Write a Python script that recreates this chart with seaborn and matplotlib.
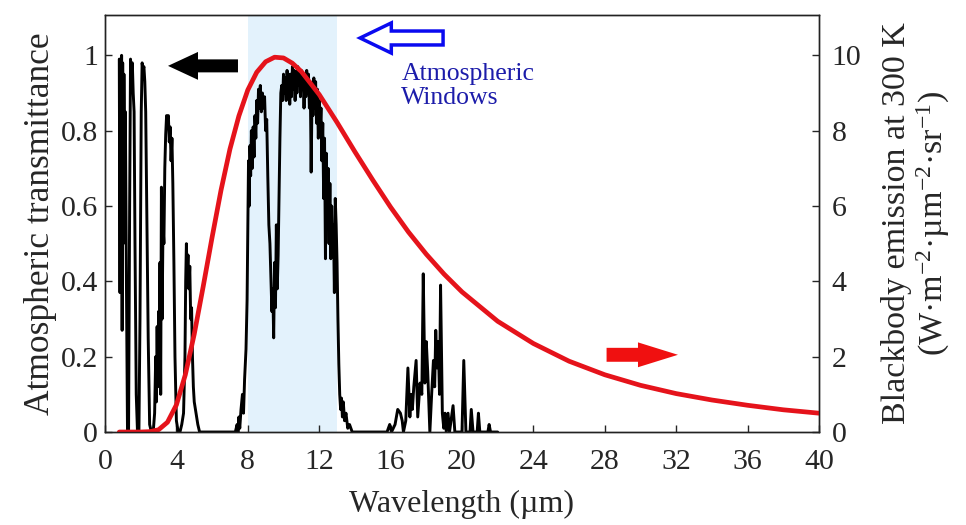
import matplotlib
matplotlib.use("Agg")
import matplotlib.pyplot as plt
import seaborn as sns
from matplotlib.patches import FancyArrow

# ================== data ==================
# atmospheric transmittance vs wavelength (um)
trans_um = [
    0.80, 0.84, 0.87, 0.90, 0.93, 0.96, 0.99, 1.02, 1.06, 1.10, 1.14, 1.20, 1.26, 1.32, 1.38,
    1.43, 1.48, 1.53, 1.58, 1.63, 1.68, 1.75, 1.82, 1.90, 1.96, 2.03, 2.08, 2.13, 2.18, 2.23,
    2.28, 2.35, 2.42, 2.50, 2.60, 2.70, 2.78, 2.84, 2.88, 2.92, 2.96, 3.00, 3.04, 3.08, 3.12,
    3.16, 3.20, 3.25, 3.30, 3.35, 3.40, 3.45, 3.50, 3.55, 3.60, 3.65, 3.70, 3.75, 3.80, 3.86,
    3.92, 4.00, 4.10, 4.20, 4.30, 4.40, 4.48, 4.52, 4.56, 4.60, 4.65, 4.70, 4.75, 4.80, 4.85,
    4.90, 4.95, 5.00, 5.10, 5.20, 5.30, 7.30,
    7.40, 7.45, 7.50, 7.55, 7.62, 7.70, 7.76, 7.82, 7.90, 7.96, 8.00, 8.04, 8.08, 8.12, 8.16,
    8.20, 8.25, 8.30, 8.35, 8.40, 8.45, 8.50, 8.55, 8.60, 8.65, 8.70, 8.76, 8.82, 8.88, 8.94,
    9.00, 9.06, 9.12, 9.18, 9.24, 9.30, 9.35, 9.40, 9.45, 9.50, 9.55, 9.60, 9.65, 9.70, 9.75,
    9.80, 9.85, 9.90, 9.95, 10.00, 10.05, 10.10, 10.15, 10.20, 10.25, 10.30, 10.35, 10.40,
    10.45, 10.50, 10.55, 10.60, 10.65, 10.70, 10.75, 10.80, 10.85, 10.90, 10.95, 11.00, 11.05,
    11.10, 11.15, 11.20, 11.25, 11.30, 11.35, 11.40, 11.45, 11.50, 11.55, 11.60, 11.65, 11.70,
    11.75, 11.80, 11.85, 11.90, 11.95, 12.00, 12.05, 12.10, 12.15, 12.20, 12.25, 12.30, 12.35,
    12.40, 12.45, 12.50, 12.55, 12.60, 12.65, 12.70, 12.75, 12.80, 12.85, 12.90, 12.95, 13.00,
    13.05, 13.10, 13.15, 13.20, 13.25, 13.30, 13.35, 13.42, 13.50, 13.60, 13.70, 13.85, 13.95,
    15.80, 15.95, 16.05, 16.25, 16.40, 16.55, 16.65, 16.72, 16.85, 16.97, 17.08, 17.15, 17.22,
    17.30, 17.43, 17.52, 17.65, 17.75, 17.83, 17.92, 18.00, 18.08, 18.20, 18.30, 18.40, 18.47,
    18.53, 18.60, 18.67, 18.74, 18.80, 18.90, 18.98, 19.05, 19.12, 19.22, 19.30, 19.50, 19.60,
    20.00, 20.10, 20.22, 20.45, 20.52, 20.62, 20.85, 20.92, 21.00, 21.45, 21.52, 21.60, 22.00,
]
trans_val = [
    0.99, 0.37, 0.99, 0.60, 1.00, 0.27, 0.98, 0.50, 0.95, 0.70, 0.85, 0.40, 0.00, 0.00, 0.60,
    0.99, 0.95, 0.98, 0.90, 0.85, 0.50, 0.10, 0.00, 0.00, 0.30, 0.85, 0.98, 0.96, 0.97, 0.93,
    0.85, 0.55, 0.25, 0.02, 0.00, 0.00, 0.05, 0.20, 0.08, 0.28, 0.12, 0.32, 0.18, 0.45, 0.10,
    0.65, 0.30, 0.55, 0.50, 0.70, 0.79, 0.84, 0.83, 0.84, 0.77, 0.81, 0.72, 0.78, 0.66, 0.45,
    0.20, 0.03, 0.00, 0.00, 0.02, 0.05, 0.20, 0.40, 0.50, 0.42, 0.47, 0.38, 0.44, 0.30, 0.33,
    0.20, 0.12, 0.08, 0.05, 0.02, 0.00, 0.00,
    0.02, 0.00, 0.04, 0.01, 0.06, 0.10, 0.05, 0.14, 0.22, 0.35, 0.55, 0.72, 0.60, 0.76, 0.68,
    0.80, 0.70, 0.81, 0.73, 0.84, 0.78, 0.88, 0.82, 0.91, 0.86, 0.92, 0.85, 0.90, 0.86, 0.89,
    0.80, 0.83, 0.68, 0.55, 0.50, 0.40, 0.32, 0.38, 0.25, 0.45, 0.33, 0.55, 0.38, 0.47, 0.62,
    0.78, 0.90, 0.92, 0.88, 0.95, 0.90, 0.94, 0.88, 0.96, 0.90, 0.95, 0.87, 0.95,
    0.89, 0.97, 0.91, 0.96, 0.88, 0.95, 0.90, 0.97, 0.92, 0.96, 0.89, 0.96, 0.91,
    0.95, 0.86, 0.94, 0.89, 0.96, 0.90, 0.95, 0.86, 0.93, 0.69, 0.90, 0.84, 0.94,
    0.86, 0.93, 0.82, 0.91, 0.78, 0.88, 0.80, 0.86, 0.72, 0.82, 0.62, 0.78, 0.46,
    0.74, 0.58, 0.70, 0.50, 0.66, 0.46, 0.60, 0.48, 0.55, 0.37, 0.62, 0.55, 0.45,
    0.30, 0.18, 0.10, 0.06, 0.09, 0.04, 0.08, 0.03, 0.05, 0.01, 0.02, 0.00, 0.00,
    0.00, 0.02, 0.00, 0.02, 0.06, 0.05, 0.03, 0.00, 0.03, 0.17, 0.04, 0.10, 0.06,
    0.12, 0.19, 0.04, 0.13, 0.10, 0.42, 0.13, 0.24, 0.16, 0.00, 0.10, 0.19, 0.12,
    0.27, 0.17, 0.24, 0.10, 0.39, 0.05, 0.01, 0.05, 0.00, 0.05, 0.00, 0.07, 0.00,
    0.00, 0.19, 0.00, 0.00, 0.06, 0.00, 0.00, 0.05, 0.00, 0.00, 0.02, 0.00, 0.00,
]

# blackbody spectral radiance at 300 K (W m-2 um-1 sr-1)
bb_um = [0.8, 1.5, 2.0, 2.5, 3.0, 3.5, 4.0, 4.5, 5.0, 5.5, 6.0, 6.5, 7.0, 7.5, 8.0, 8.5,
         9.0, 9.5, 10.0, 10.5, 11.0, 12.0, 13.0, 14.0, 15.0, 16.0, 17.0, 18.0, 19.0, 20.0,
         22.0, 24.0, 26.0, 28.0, 30.0, 32.0, 34.0, 36.0, 38.0, 40.0]
bb_val = [0.0, 0.0, 0.0, 0.01, 0.06, 0.26, 0.72, 1.52, 2.60, 3.86, 5.17, 6.42, 7.51, 8.39,
          9.08, 9.55, 9.83, 9.95, 9.93, 9.79, 9.57, 8.96, 8.22, 7.44, 6.69, 5.97, 5.31, 4.72,
          4.19, 3.72, 2.94, 2.35, 1.88, 1.52, 1.24, 1.02, 0.85, 0.71, 0.59, 0.50]

x_ticks = [0, 4, 8, 12, 16, 20, 24, 28, 32, 36, 40]
left_ticks = [0, 0.2, 0.4, 0.6, 0.8, 1.0]
left_labels = ["0", "0.2", "0.4", "0.6", "0.8", "1"]
right_ticks = [0, 2, 4, 6, 8, 10]
window_band = (8, 13)
# ====================================================================

sns.set_style("ticks")
plt.rcParams["font.family"] = ["Liberation Serif", "DejaVu Serif"]
plt.rcParams["mathtext.fontset"] = "custom"
plt.rcParams["mathtext.rm"] = "Liberation Serif"
plt.rcParams["mathtext.it"] = "Liberation Serif:italic"

fig = plt.figure(figsize=(9.66, 5.25), dpi=100)
ax = fig.add_axes([0.1087, 0.1771, 0.7391, 0.7943])
ax2 = ax.twinx()

# atmospheric window shading
ax.axvspan(*window_band, color="#e3f2fc", lw=0, zorder=0)

sns.lineplot(x=trans_um, y=trans_val, color="black", linewidth=2.1,
             estimator=None, sort=False, ax=ax)
sns.lineplot(x=bb_um, y=bb_val, color="#e5131b", linewidth=3.4,
             estimator=None, sort=False, ax=ax2)

ax.set_xlim(0, 40)
ax.set_ylim(0, 1.107)
ax2.set_ylim(0, 11.07)
ax.set_xticks(x_ticks)
ax.set_yticks(left_ticks)
ax.set_yticklabels(left_labels)
ax2.set_yticks(right_ticks)

for a in (ax, ax2):
    for sp in a.spines.values():
        sp.set_linewidth(1.0)
        sp.set_color("#222222")
ax.tick_params(axis="both", direction="in", length=5, width=1, labelsize=21.5, top=False, right=False)
ax.tick_params(axis="x", pad=12)
ax.tick_params(axis="y", pad=5)
ax2.tick_params(axis="y", direction="in", length=5, width=1, labelsize=21.5, pad=9)

ax.set_xlabel("Wavelength (µm)", fontsize=23, labelpad=11)
ax.set_ylabel("Atmospheric transmittance", fontsize=25.5, labelpad=3)
ax2.set_ylabel("Blackbody emission at 300 K\n(W·m$^{-2}$·µm$^{-2}$·sr$^{-1}$)",
               fontsize=24.5, labelpad=14, linespacing=1.1)

# arrows
ax.add_patch(FancyArrow(7.45, 0.972, -3.92, 0, width=0.0345, head_width=0.074,
                        head_length=1.68, length_includes_head=True,
                        color="black", lw=0, zorder=5))
ax.add_patch(FancyArrow(18.94, 1.046, -4.65, 0, width=0.037, head_width=0.08,
                        head_length=1.75, length_includes_head=True,
                        fc="white", ec="#0a0af0", lw=2.5, zorder=5, clip_on=False))
ax.add_patch(FancyArrow(28.1, 0.205, 4.0, 0, width=0.037, head_width=0.066,
                        head_length=2.24, length_includes_head=True,
                        color="#f01010", lw=0, zorder=5))
ax.text(16.6, 0.98, "Atmospheric\nWindows", color="#1c1caa", fontsize=18.5,
        ha="left", va="top", linespacing=1.1)

plt.savefig("out.png", dpi=100)
